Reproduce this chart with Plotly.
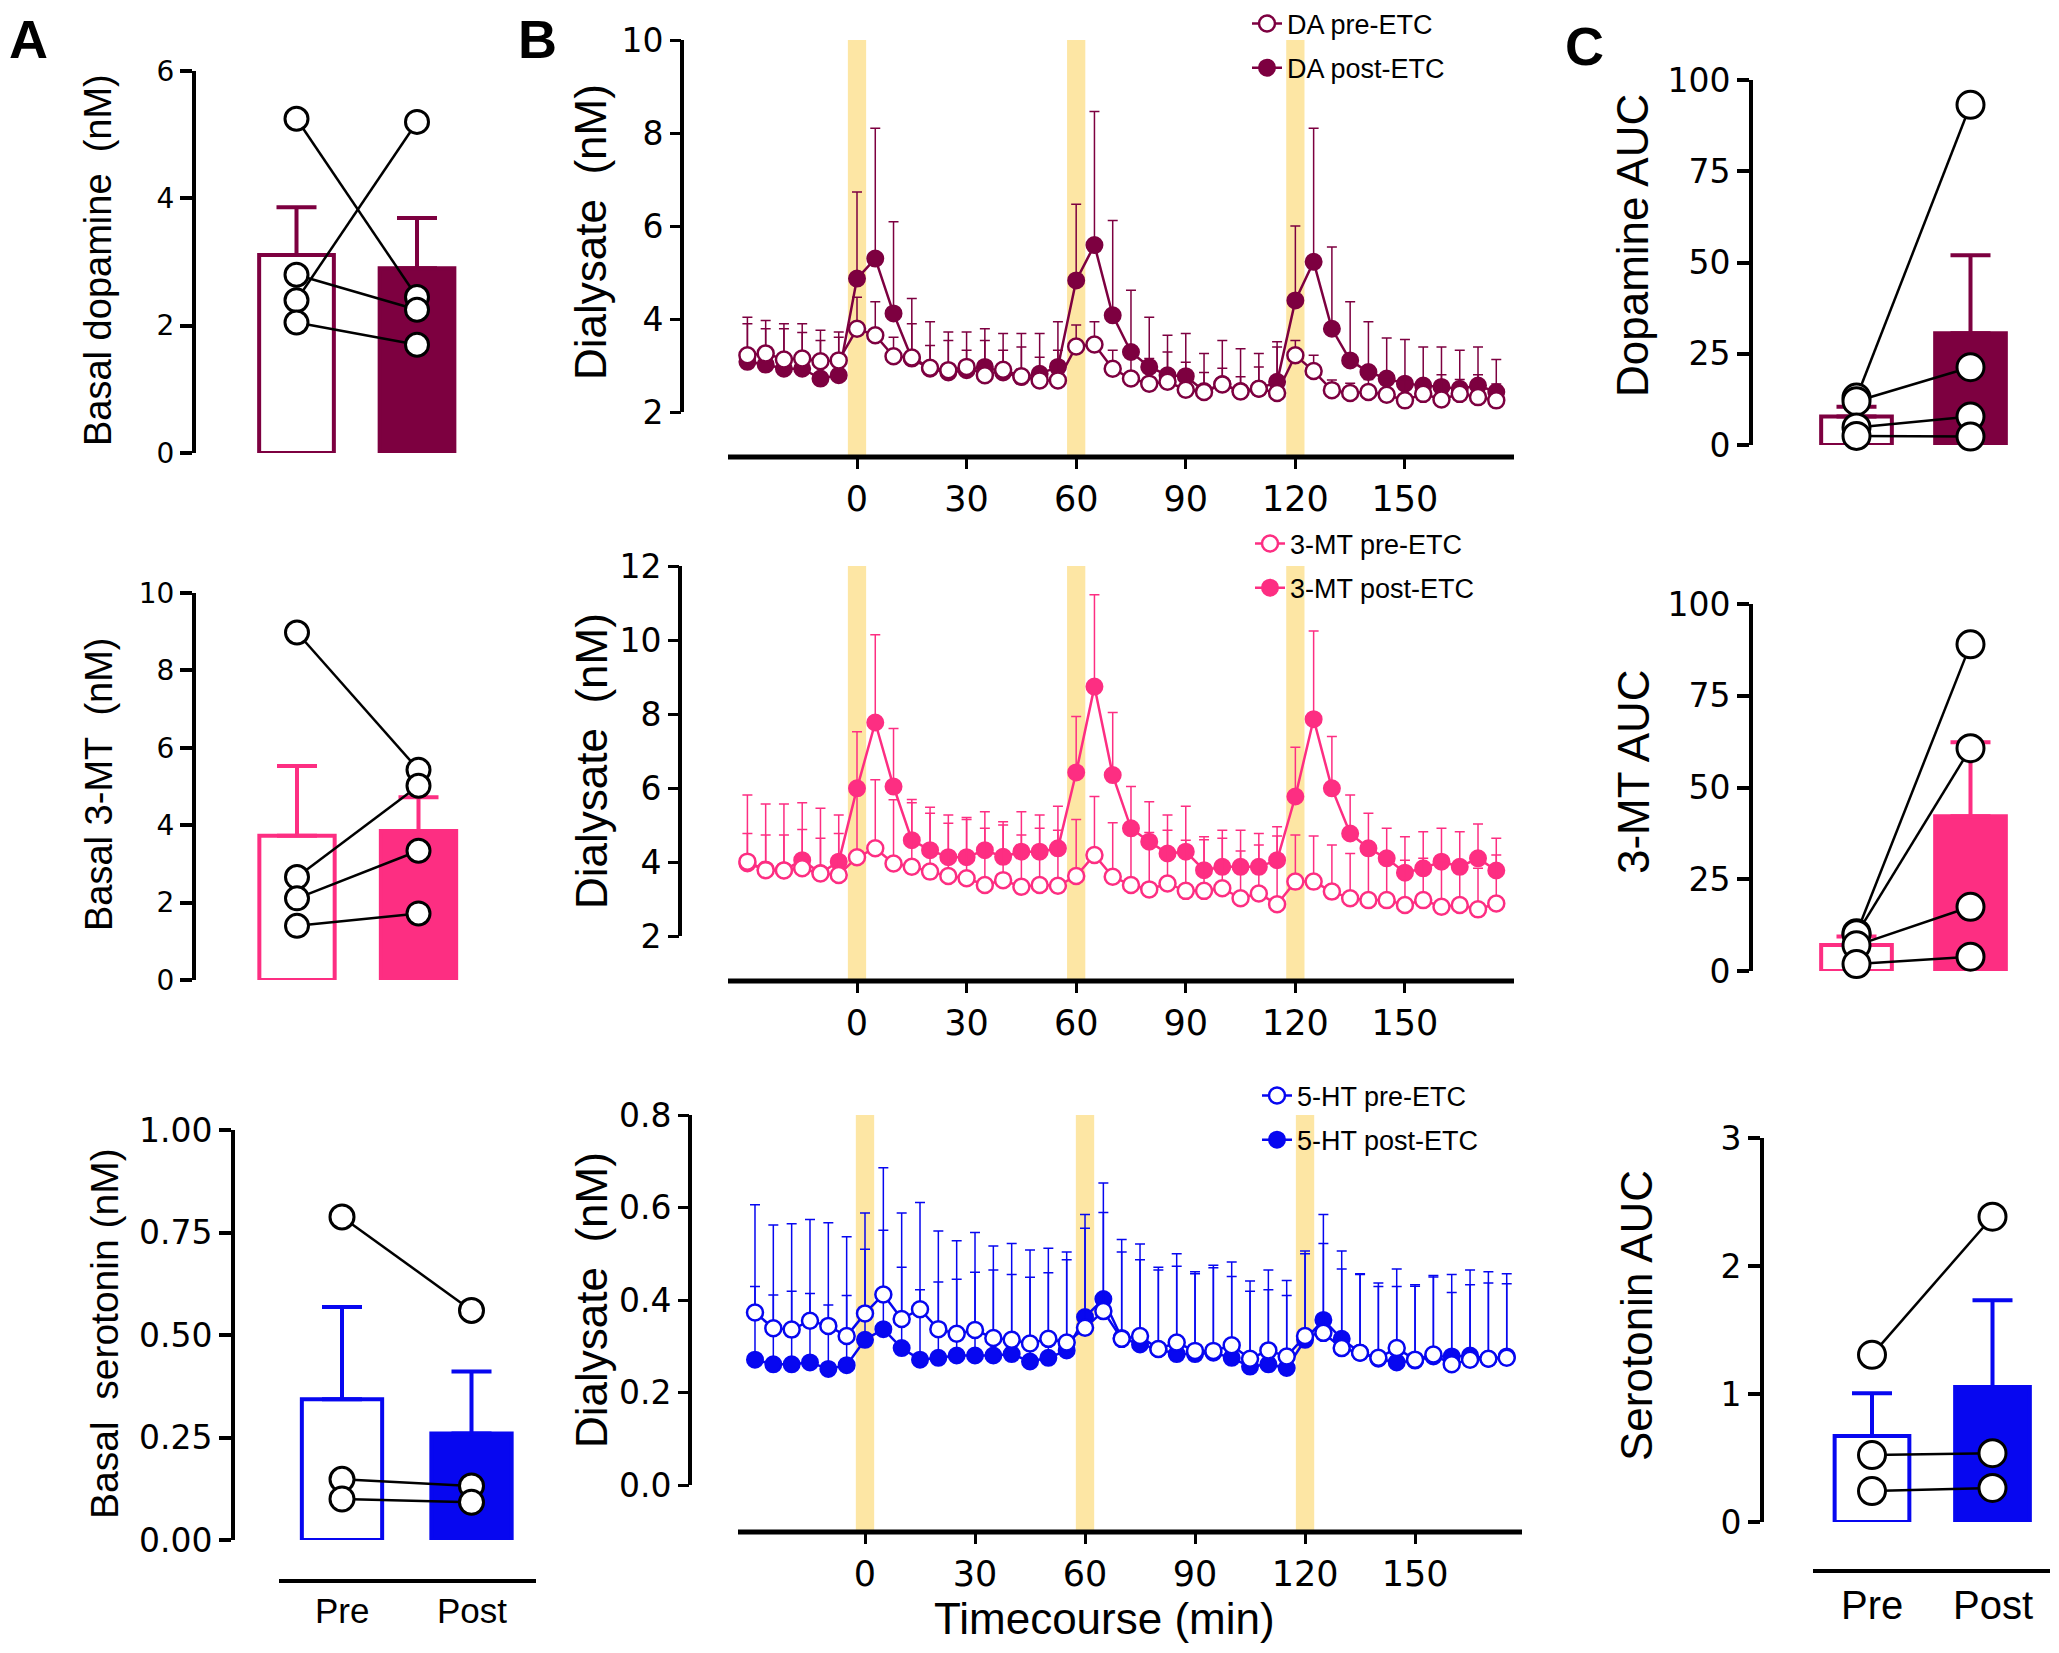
import plotly.graph_objects as go

W, H = 2059, 1653
OFF = 8                      # browser body margin around the plot div
FW, FH = W - 2 * OFF, H - 2 * OFF
FONT = 'Liberation Sans, Arial, Helvetica, sans-serif'
TICK_FONT = 'DejaVu Sans, Verdana, sans-serif'

DA_COL = '#7d0040'
MT_COL = '#fd2e82'
HT_COL = '#0707f0'
BAND_COL = '#fde6a4'

groups = ['Pre', 'Post']

# ---------- A: basal levels, one value per animal ----------
da_basal_pre = [5.25, 2.80, 2.40, 2.05]
da_basal_post = [2.45, 2.25, 5.20, 1.70]
da_basal_mean = [3.11, 2.90]
da_basal_sem = [0.75, 0.79]

mt_basal_pre = [8.98, 2.66, 2.11, 1.40]
mt_basal_post = [5.43, 5.02, 3.34, 1.72]
mt_basal_mean = [3.73, 3.85]
mt_basal_sem = [1.80, 0.87]

ht_basal_pre = [0.788, 0.148, 0.100]
ht_basal_post = [0.560, 0.132, 0.092]
ht_basal_mean = [0.343, 0.260]
ht_basal_sem = [0.225, 0.151]

# ---------- C: area under curve ----------
da_auc_pre = [13.0, 12.0, 4.8, 2.5]
da_auc_post = [93.2, 21.3, 7.8, 2.3]
da_auc_mean = [7.8, 30.6]
da_auc_sem = [2.7, 21.4]

mt_auc_pre = [10.3, 10.0, 7.0, 1.9]
mt_auc_post = [89.0, 60.7, 17.5, 3.9]
mt_auc_mean = [7.1, 42.2]
mt_auc_sem = [2.3, 20.1]

ht_auc_pre = [1.306, 0.523, 0.242]
ht_auc_post = [2.385, 0.538, 0.266]
ht_auc_mean = [0.671, 1.055]
ht_auc_sem = [0.334, 0.677]

# ---------- B: timecourse (mean + SEM) ----------
time_min = [-30, -25, -20, -15, -10, -5, 0, 5, 10, 15, 20, 25, 30, 35,
            40, 45, 50, 55, 60, 65, 70, 75, 80, 85, 90, 95, 100, 105,
            110, 115, 120, 125, 130, 135, 140, 145, 150, 155, 160, 165, 170, 175]
stim_windows = [(-2.5, 2.5), (57.5, 62.5), (117.5, 122.5)]
time_ticks = [0, 30, 60, 90, 120, 150]

da_pre = [3.22, 3.26, 3.13, 3.15, 3.09, 3.11,
          3.79, 3.65, 3.20, 3.17, 2.95, 2.90,
          2.97, 2.79, 2.91, 2.77, 2.68, 2.68,
          3.41, 3.45, 2.93, 2.72, 2.61, 2.65,
          2.48, 2.43, 2.59, 2.44, 2.50, 2.41,
          3.22, 2.88, 2.47, 2.41, 2.43, 2.37,
          2.25, 2.39, 2.27, 2.39, 2.32, 2.25]
da_pre_sem = [0.68, 0.53, 0.66, 0.56, 0.45, 0.50,
              0.68, 0.72, 0.41, 0.73, 0.48, 0.64,
              0.36, 0.75, 0.42, 0.63, 0.50, 0.65,
              0.46, 0.49, 0.40, 0.46, 0.54, 0.64,
              0.59, 0.42, 0.35, 0.32, 0.47, 0.99,
              0.32, 0.34, 0.22, 0.21, 0.27, 0.33,
              0.45, 0.31, 0.53, 0.31, 0.48, 0.35]
da_post = [3.08, 3.02, 2.93, 2.93, 2.72, 2.79,
           4.87, 5.30, 4.12, 3.15, 2.93, 2.85,
           2.90, 2.97, 2.85, 2.75, 2.82, 2.97,
           4.83, 5.59, 4.08, 3.29, 2.97, 2.79,
           2.77, 2.45, 2.60, 2.45, 2.50, 2.65,
           4.40, 5.23, 3.79, 3.11, 2.86, 2.72,
           2.61, 2.57, 2.54, 2.50, 2.57, 2.43]
da_post_sem = [0.96, 0.95, 0.97, 0.97, 1.04, 0.93,
               1.86, 2.80, 1.97, 1.29, 1.01, 0.87,
               0.82, 0.82, 0.84, 0.94, 0.87, 0.97,
               1.64, 2.87, 2.04, 1.33, 1.07, 0.86,
               0.92, 0.81, 0.94, 0.91, 0.76, 0.86,
               1.60, 2.87, 1.76, 1.26, 1.08, 0.87,
               0.95, 0.83, 0.86, 0.83, 0.83, 0.70]

mt_pre = [4.01, 3.78, 3.77, 3.83, 3.69, 3.65,
          4.13, 4.37, 3.96, 3.87, 3.74, 3.62,
          3.56, 3.38, 3.51, 3.33, 3.38, 3.36,
          3.62, 4.19, 3.60, 3.38, 3.26, 3.42,
          3.22, 3.22, 3.29, 3.02, 3.15, 2.86,
          3.47, 3.47, 3.20, 3.02, 2.97, 2.97,
          2.84, 2.97, 2.79, 2.84, 2.72, 2.88]
mt_pre_sem = [1.80, 1.79, 1.80, 1.77, 1.76, 1.62,
              1.68, 1.85, 1.72, 1.73, 1.58, 1.43,
              1.59, 1.53, 1.49, 1.40, 1.53, 1.50,
              1.53, 1.58, 1.46, 1.52, 1.54, 1.44,
              1.37, 1.38, 1.35, 1.28, 1.31, 1.84,
              1.26, 1.23, 1.26, 1.21, 1.22, 1.03,
              1.21, 1.13, 1.21, 1.16, 1.11, 1.31]
mt_post = [3.96, 3.80, 3.78, 4.05, 3.70, 4.01,
           5.99, 7.77, 6.04, 4.59, 4.32, 4.13,
           4.13, 4.32, 4.14, 4.28, 4.28, 4.37,
           6.42, 8.74, 6.35, 4.91, 4.55, 4.23,
           4.28, 3.78, 3.87, 3.87, 3.87, 4.05,
           5.77, 7.86, 5.99, 4.77, 4.37, 4.10,
           3.71, 3.83, 4.01, 3.87, 4.10, 3.77]
mt_post_sem = [0.81, 0.93, 0.95, 0.83, 0.94, 0.76,
               1.53, 2.37, 1.57, 1.10, 1.16, 1.14,
               1.07, 1.04, 0.95, 1.08, 0.99, 1.14,
               1.51, 2.48, 1.69, 1.13, 1.08, 1.04,
               1.23, 0.90, 0.99, 0.99, 0.90, 0.90,
               1.33, 2.38, 1.40, 1.04, 0.95, 0.81,
               0.97, 0.99, 0.90, 0.95, 0.93, 0.87]

ht_pre = [0.373, 0.339, 0.336, 0.355, 0.344, 0.322,
          0.371, 0.412, 0.359, 0.380, 0.337, 0.327,
          0.335, 0.318, 0.314, 0.306, 0.316, 0.308,
          0.340, 0.376, 0.316, 0.322, 0.294, 0.308,
          0.290, 0.290, 0.302, 0.273, 0.291, 0.278,
          0.322, 0.329, 0.296, 0.286, 0.275, 0.296,
          0.271, 0.282, 0.261, 0.271, 0.273, 0.275]
ht_pre_sem = [0.233, 0.223, 0.229, 0.219, 0.223, 0.215,
              0.217, 0.274, 0.229, 0.231, 0.212, 0.201,
              0.211, 0.199, 0.208, 0.202, 0.196, 0.196,
              0.245, 0.213, 0.215, 0.199, 0.177, 0.192,
              0.171, 0.185, 0.180, 0.168, 0.174, 0.164,
              0.184, 0.193, 0.210, 0.171, 0.162, 0.171,
              0.162, 0.171, 0.194, 0.194, 0.188, 0.182]
ht_post = [0.271, 0.261, 0.261, 0.265, 0.251, 0.259,
           0.314, 0.337, 0.296, 0.271, 0.275, 0.280,
           0.280, 0.280, 0.283, 0.267, 0.275, 0.291,
           0.363, 0.402, 0.318, 0.304, 0.294, 0.283,
           0.283, 0.286, 0.275, 0.256, 0.261, 0.253,
           0.314, 0.357, 0.316, 0.286, 0.273, 0.265,
           0.269, 0.278, 0.278, 0.280, 0.273, 0.278]
ht_post_sem = [0.158, 0.150, 0.158, 0.149, 0.138, 0.151,
               0.196, 0.214, 0.175, 0.151, 0.164, 0.165,
               0.180, 0.185, 0.172, 0.182, 0.184, 0.196,
               0.192, 0.251, 0.186, 0.183, 0.171, 0.190,
               0.174, 0.184, 0.176, 0.163, 0.161, 0.157,
               0.186, 0.228, 0.151, 0.169, 0.156, 0.164,
               0.161, 0.172, 0.138, 0.153, 0.164, 0.157]


fig = go.Figure()
axes = {}
shapes = []
annotations = []


def px(x):
    return (x - OFF) / FW


def py(y):
    return 1 - (y - OFF) / FH


def axis_range(p_lo, p_hi, p_a, v_a, p_b, v_b):
    # value range spanning pixels p_lo..p_hi, given two reference pixels
    s = (v_b - v_a) / (p_b - p_a)
    return [v_a + (p_lo - p_a) * s, v_a + (p_hi - p_a) * s]


def suffix(i):
    return '' if i == 1 else str(i)


def text(x, y, s, size, angle=0, bold=False, xref='paper'):
    xx = px(x) if xref == 'paper' else x
    annotations.append(dict(x=xx, y=py(y), xref=xref, yref='paper', text=s,
                            showarrow=False, textangle=angle, xanchor='center',
                            yanchor='middle',
                            font=dict(size=size, color='black', family=FONT,
                                      weight='bold' if bold else 'normal')))


def bar_panel(i, pre, post, mean, sem, color, yax_px, c0_px, c1_px, right_px,
              y0_px, ytop_px, ymax, yticks, fmt, tick_size, dot_size):
    n = suffix(i)
    axes['xaxis' + n] = dict(domain=[px(yax_px), px(right_px)],
                             range=axis_range(yax_px, right_px, c0_px, 0, c1_px, 1),
                             visible=False, anchor='y' + n)
    axes['yaxis' + n] = dict(domain=[py(y0_px), py(ytop_px)], range=[0, ymax],
                             anchor='x' + n, showline=True, linecolor='black', linewidth=4,
                             ticks='outside', ticklen=12, tickwidth=4, tickcolor='black',
                             tickvals=yticks, tickformat=fmt,
                             tickfont=dict(size=tick_size, color='black', family=TICK_FONT),
                             showgrid=False, zeroline=False)
    fig.add_trace(go.Bar(
        x=[0, 1], y=mean, width=0.62, xaxis='x' + n, yaxis='y' + n,
        marker=dict(color=['white', color], line=dict(color=color, width=4)),
        error_y=dict(type='data', array=sem, arrayminus=[0, 0], symmetric=False,
                     color=color, thickness=4, width=20),
        cliponaxis=False, showlegend=False))
    xs, ys = [], []
    for a, b in zip(pre, post):
        xs += [0, 1, None]
        ys += [a, b, None]
    fig.add_trace(go.Scatter(
        x=xs, y=ys, mode='lines+markers', xaxis='x' + n, yaxis='y' + n,
        line=dict(color='black', width=2.5),
        marker=dict(size=dot_size, color='white', line=dict(color='black', width=3)),
        cliponaxis=False, showlegend=False))


def time_panel(i, pre, pre_sem, post, post_sem, color, label, legend_id,
               x_lo_px, x_hi_px, x0_px, px_per_min, axis_start_px,
               ytop_px, ybot_px, ya_px, ya, yb_px, yb, yticks, fmt):
    n = suffix(i)
    xr = axis_range(x_lo_px, x_hi_px, x0_px, 0, x0_px + px_per_min, 1)
    yr = axis_range(ybot_px, ytop_px, ya_px, ya, yb_px, yb)
    axes['xaxis' + n] = dict(domain=[px(x_lo_px), px(x_hi_px)], range=xr, anchor='y' + n,
                             showline=False, showgrid=False, zeroline=False,
                             ticks='outside', ticklen=11, tickwidth=3, tickcolor='black',
                             tickvals=time_ticks,
                             tickfont=dict(size=35, color='black', family=TICK_FONT))
    axes['yaxis' + n] = dict(domain=[py(ybot_px), py(ytop_px)], range=yr,
                             anchor='x' + n, showline=False, showgrid=False, zeroline=False,
                             ticks='outside', ticklen=11, tickwidth=3, tickcolor='black',
                             tickvals=yticks, tickformat=fmt,
                             tickfont=dict(size=33, color='black', family=TICK_FONT))
    for t0, t1 in stim_windows:
        shapes.append(dict(type='rect', xref='x' + n, yref='y' + n, x0=t0, x1=t1,
                           y0=yr[0], y1=yticks[-1], fillcolor=BAND_COL,
                           line=dict(width=0), layer='below'))
    # axis lines, Prism style (offset)
    shapes.append(dict(type='line', xref='x' + n + ' domain', yref='y' + n,
                       x0=0, x1=0, y0=yticks[0], y1=yticks[-1],
                       line=dict(color='black', width=4)))
    x_start = axis_range(axis_start_px, axis_start_px, x0_px, 0, x0_px + px_per_min, 1)[0]
    shapes.append(dict(type='line', xref='x' + n, yref='y' + n + ' domain',
                       x0=x_start, x1=xr[1], y0=0, y1=0,
                       line=dict(color='black', width=5)))
    zeros = [0] * len(time_min)
    fig.add_trace(go.Scatter(
        x=time_min, y=post, mode='lines+markers', name=label + ' post-ETC',
        xaxis='x' + n, yaxis='y' + n, legend=legend_id, legendgroup=label + 'post',
        legendrank=2,
        line=dict(color=color, width=2.5),
        marker=dict(size=16, color=color, line=dict(color=color, width=2)),
        error_y=dict(type='data', array=post_sem, arrayminus=zeros, symmetric=False,
                     color=color, thickness=1.5, width=5)))
    fig.add_trace(go.Scatter(
        x=time_min, y=pre, mode='lines+markers', name=label + ' pre-ETC',
        xaxis='x' + n, yaxis='y' + n, legend=legend_id, legendgroup=label + 'pre',
        legendrank=1,
        line=dict(color=color, width=2.5),
        marker=dict(size=16, color='white', line=dict(color=color, width=2.5)),
        error_y=dict(type='data', array=pre_sem, arrayminus=zeros, symmetric=False,
                     color=color, thickness=1.5, width=5)))


# ---- column A ----
bar_panel(1, da_basal_pre, da_basal_post, da_basal_mean, da_basal_sem, DA_COL,
          196, 296.5, 417, 500, 453, 71, 6, [0, 2, 4, 6], 'd', 28, 23)
bar_panel(2, mt_basal_pre, mt_basal_post, mt_basal_mean, mt_basal_sem, MT_COL,
          196, 297, 418.5, 500, 980, 593, 10, [0, 2, 4, 6, 8, 10], 'd', 28, 23)
bar_panel(3, ht_basal_pre, ht_basal_post, ht_basal_mean, ht_basal_sem, HT_COL,
          235, 342, 471.5, 545, 1540, 1130, 1.0, [0, 0.25, 0.5, 0.75, 1.0], '.2f', 33, 24)

# ---- column B ----
time_panel(4, da_pre, da_pre_sem, da_post, da_post_sem, DA_COL, 'DA', 'legend',
           682, 1514, 857, 3.653, 728, 40, 457, 412, 2, 40, 10, [2, 4, 6, 8, 10], 'd')
time_panel(5, mt_pre, mt_pre_sem, mt_post, mt_post_sem, MT_COL, '3-MT', 'legend2',
           680, 1514, 857, 3.653, 728, 566, 981, 936, 2, 566, 12, [2, 4, 6, 8, 10, 12], 'd')
time_panel(6, ht_pre, ht_pre_sem, ht_post, ht_post_sem, HT_COL, '5-HT', 'legend3',
           690, 1522, 865, 3.667, 738, 1115, 1532, 1485, 0, 1115, 0.8,
           [0, 0.2, 0.4, 0.6, 0.8], '.1f')

# ---- column C ----
bar_panel(7, da_auc_pre, da_auc_post, da_auc_mean, da_auc_sem, DA_COL,
          1753, 1856.5, 1970.5, 2045, 445, 80, 100, [0, 25, 50, 75, 100], 'd', 33, 27)
bar_panel(8, mt_auc_pre, mt_auc_post, mt_auc_mean, mt_auc_sem, MT_COL,
          1753, 1856.5, 1970.5, 2045, 971, 604, 100, [0, 25, 50, 75, 100], 'd', 33, 27)
bar_panel(9, ht_auc_pre, ht_auc_post, ht_auc_mean, ht_auc_sem, HT_COL,
          1764, 1872, 1992.5, 2048, 1522, 1138, 3, [0, 1, 2, 3], 'd', 33, 27)

# group baselines with Pre / Post labels
shapes.append(dict(type='line', xref='paper', yref='paper', x0=px(279), x1=px(536),
                   y0=py(1581), y1=py(1581), line=dict(color='black', width=4)))
shapes.append(dict(type='line', xref='paper', yref='paper', x0=px(1813), x1=px(2050),
                   y0=py(1571), y1=py(1571), line=dict(color='black', width=4)))
for k, g in enumerate(groups):
    text(k, 1610, g, 35, xref='x3')
    text(k, 1605, g, 40, xref='x9')

# axis titles
text(98, 260, 'Basal dopamine\u00a0 (nM)', 38, angle=-90)
text(99, 785, 'Basal 3-MT\u00a0 (nM)', 38, angle=-90)
text(104, 1334, 'Basal\u00a0 serotonin (nM)', 39, angle=-90)
text(591, 232, 'Dialysate\u00a0 (nM)', 44, angle=-90)
text(591, 761, 'Dialysate\u00a0 (nM)', 44, angle=-90)
text(591, 1300, 'Dialysate\u00a0 (nM)', 44, angle=-90)
text(1633, 246, 'Dopamine AUC', 44, angle=-90)
text(1633, 772, '3-MT AUC', 44, angle=-90)
text(1636, 1316, 'Serotonin AUC', 44, angle=-90)
text(1104, 1618, 'Timecourse (min)', 44)

# panel letters
text(28, 39, 'A', 54, bold=True)
text(537, 39, 'B', 54, bold=True)
text(1584, 46, 'C', 54, bold=True)

legend_style = dict(xanchor='left', yanchor='middle', bgcolor='rgba(0,0,0,0)',
                    font=dict(size=27, color='black', family=FONT),
                    tracegroupgap=6, itemwidth=30)

fig.update_layout(
    width=FW, height=FH,
    margin=dict(l=0, r=0, t=0, b=0, autoexpand=False),
    paper_bgcolor='white', plot_bgcolor='white',
    font=dict(family=FONT, color='black'),
    shapes=shapes, annotations=annotations,
    legend=dict(x=px(1247), y=py(46), **legend_style),
    legend2=dict(x=px(1250), y=py(566), **legend_style),
    legend3=dict(x=px(1257), y=py(1118), **legend_style),
    **axes,
)

fig.write_html('out.html')
